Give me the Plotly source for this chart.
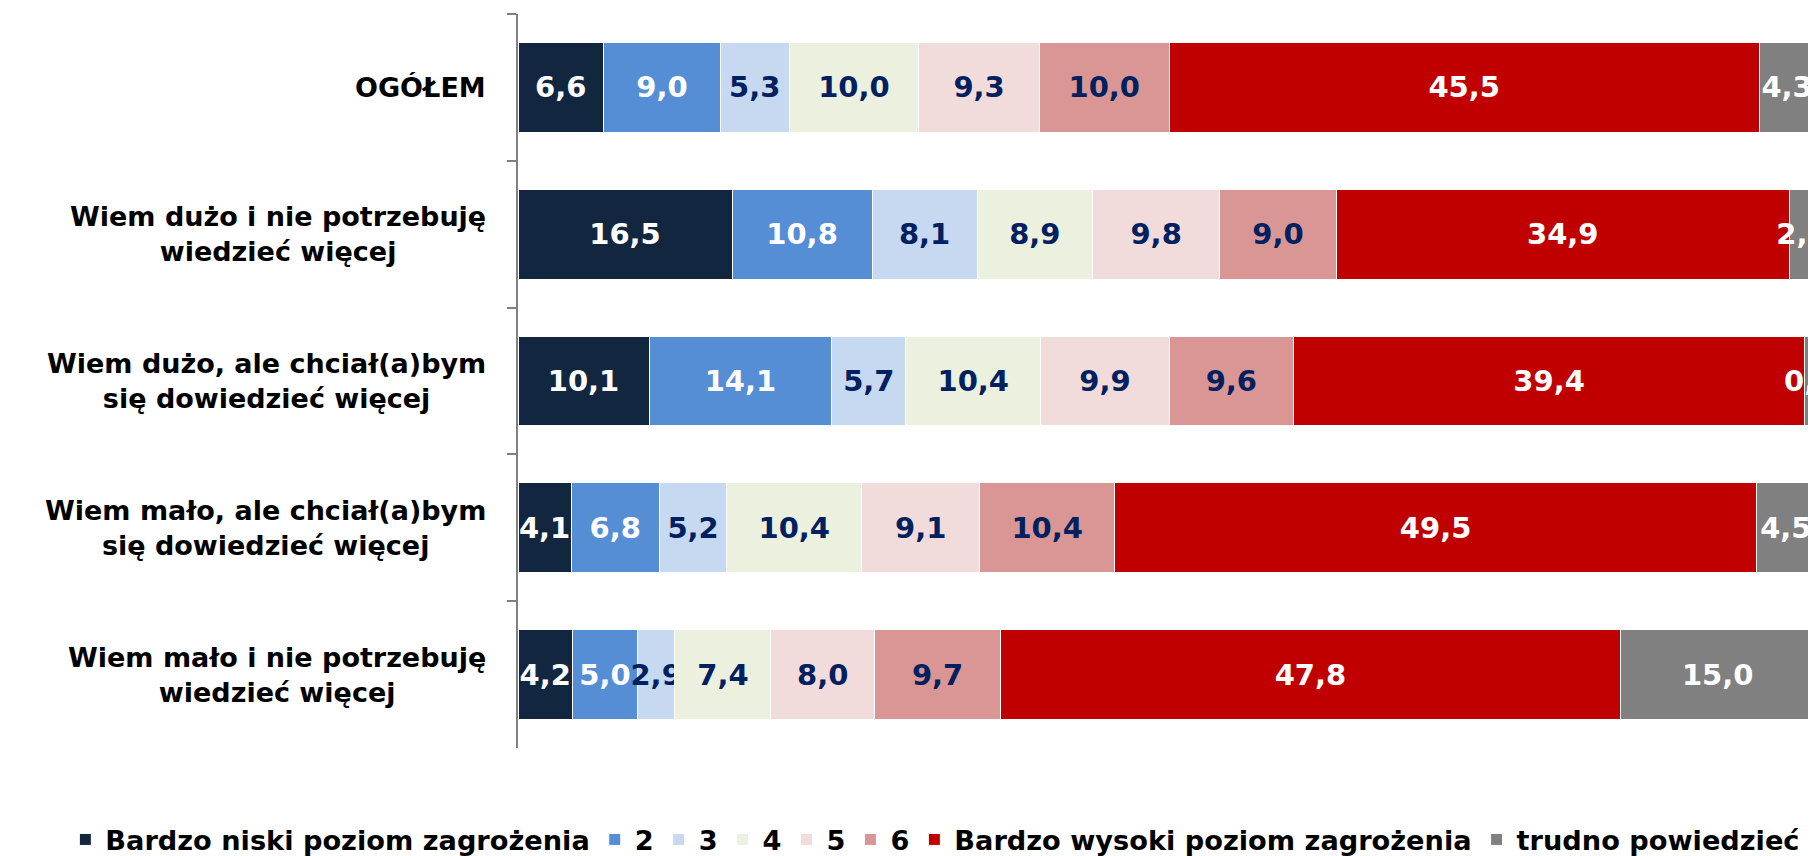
import plotly.graph_objects as go

categories = [
    "OGÓŁEM",
    "Wiem dużo i nie potrzebuję<br>wiedzieć więcej",
    "Wiem dużo, ale chciał(a)bym<br>się dowiedzieć więcej",
    "Wiem mało, ale chciał(a)bym<br>się dowiedzieć więcej",
    "Wiem mało i nie potrzebuję<br>wiedzieć więcej",
]

series_names = [
    "Bardzo niski poziom zagrożenia", "2", "3", "4", "5", "6",
    "Bardzo wysoki poziom zagrożenia", "trudno powiedzieć",
]

v_bardzo_niski = [6.6, 16.5, 10.1, 4.1, 4.2]
v_2 = [9.0, 10.8, 14.1, 6.8, 5.0]
v_3 = [5.3, 8.1, 5.7, 5.2, 2.9]
v_4 = [10.0, 8.9, 10.4, 10.4, 7.4]
v_5 = [9.3, 9.8, 9.9, 9.1, 8.0]
v_6 = [10.0, 9.0, 9.6, 10.4, 9.7]
v_bardzo_wysoki = [45.5, 34.9, 39.4, 49.5, 47.8]
v_trudno = [4.3, 2.0, 0.8, 4.5, 15.0]

series_values = [v_bardzo_niski, v_2, v_3, v_4, v_5, v_6, v_bardzo_wysoki, v_trudno]

colors = ["#13263F", "#558ED5", "#C6D9F1", "#EBF1DE", "#F2DCDB", "#D99694", "#C00000", "#808080"]
text_colors = ["#FFFFFF", "#FFFFFF", "#002060", "#002060", "#002060", "#002060", "#FFFFFF", "#FFFFFF"]

FONT = "'DejaVu Sans', sans-serif"

fig = go.Figure()
for name, vals, col, tcol in zip(series_names, series_values, colors, text_colors):
    fig.add_trace(go.Bar(
        y=categories, x=vals, name=name, orientation="h",
        marker=dict(color=col, line=dict(color="#FFFFFF", width=1)),
        texttemplate="%{x:.1f}", textposition="inside", insidetextanchor="middle",
        textangle=0, constraintext="none",
        textfont=dict(family=FONT, size=29, color=tcol, weight="bold"),
        hoverinfo="skip",
    ))

for cat in categories:
    fig.add_annotation(
        x=0, y=cat, xref="paper", yref="y", xanchor="right", yanchor="middle",
        xshift=-30, text=cat, showarrow=False, align="center",
        font=dict(family=FONT, size=27, color="#000000", weight="bold"),
    )

fig.update_layout(
    barmode="stack", bargap=0.387,
    width=1808, height=848,
    margin=dict(l=510, r=1, t=6, b=108, autoexpand=False),
    plot_bgcolor="white", paper_bgcolor="white",
    separators=", ",
    showlegend=True,
    legend=dict(orientation="h", xref="paper", x=-0.349, xanchor="left",
                yref="paper", y=-0.125, yanchor="middle",
                font=dict(family=FONT, size=27.2, color="#000000", weight="bold"),
                traceorder="normal", itemwidth=30, tracegroupgap=0),
    uniformtext=dict(minsize=29, mode="show"),
)
fig.update_xaxes(range=[0, 100], visible=False)
fig.update_yaxes(
    autorange="reversed", type="category", showticklabels=False,
    showline=True, linecolor="#808080", linewidth=1.5,
    ticks="outside", tickson="boundaries", ticklen=9, tickcolor="#808080", tickwidth=1.5,
    showgrid=False,
)

fig.write_html("out.html")
